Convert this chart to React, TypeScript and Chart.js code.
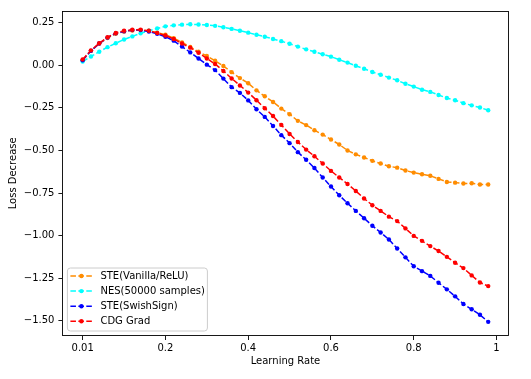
import React, { useEffect, useRef } from 'react';
import { Chart, registerables } from 'chart.js';

Chart.register(...registerables);

// x positions of the 50 learning-rate steps (first tick is labelled 0.01)
const learningRateSteps = [
  0.00, 0.02, 0.04, 0.06, 0.08, 0.10, 0.12, 0.14, 0.16, 0.18,
  0.20, 0.22, 0.24, 0.26, 0.28, 0.30, 0.32, 0.34, 0.36, 0.38,
  0.40, 0.42, 0.44, 0.46, 0.48, 0.50, 0.52, 0.54, 0.56, 0.58,
  0.60, 0.62, 0.64, 0.66, 0.68, 0.70, 0.72, 0.74, 0.76, 0.78,
  0.80, 0.82, 0.84, 0.86, 0.88, 0.90, 0.92, 0.94, 0.96, 0.98,
];

const steVanilla = [
  0.030, 0.085, 0.128, 0.160, 0.185, 0.198, 0.205, 0.207, 0.203, 0.192,
  0.180, 0.160, 0.135, 0.108, 0.080, 0.055, 0.027, -0.004, -0.040, -0.075,
  -0.105, -0.147, -0.182, -0.215, -0.254, -0.287, -0.326, -0.351, -0.381, -0.407,
  -0.436, -0.465, -0.500, -0.523, -0.541, -0.561, -0.577, -0.593, -0.601, -0.618,
  -0.630, -0.640, -0.649, -0.667, -0.685, -0.689, -0.694, -0.693, -0.700, -0.700,
];

const nes = [
  0.022, 0.052, 0.080, 0.107, 0.130, 0.152, 0.170, 0.188, 0.203, 0.217,
  0.229, 0.235, 0.239, 0.241, 0.240, 0.237, 0.232, 0.224, 0.214, 0.203,
  0.192, 0.180, 0.168, 0.155, 0.142, 0.127, 0.110, 0.094, 0.080, 0.065,
  0.051, 0.033, 0.016, -0.002, -0.020, -0.039, -0.055, -0.072, -0.088, -0.108,
  -0.125, -0.143, -0.156, -0.174, -0.192, -0.205, -0.222, -0.235, -0.248, -0.264,
];

const steSwishSign = [
  0.030, 0.085, 0.128, 0.163, 0.188, 0.200, 0.207, 0.207, 0.199, 0.185,
  0.168, 0.145, 0.110, 0.076, 0.040, 0.004, -0.028, -0.078, -0.128, -0.162,
  -0.206, -0.258, -0.303, -0.356, -0.410, -0.457, -0.510, -0.555, -0.603, -0.659,
  -0.712, -0.763, -0.810, -0.855, -0.898, -0.942, -0.982, -1.023, -1.076, -1.128,
  -1.180, -1.209, -1.237, -1.277, -1.316, -1.357, -1.402, -1.433, -1.465, -1.507,
];

const cdgGrad = [
  0.035, 0.088, 0.130, 0.165, 0.190, 0.203, 0.209, 0.210, 0.203, 0.190,
  0.175, 0.155, 0.128, 0.104, 0.074, 0.040, 0.008, -0.033, -0.077, -0.118,
  -0.160, -0.205, -0.252, -0.298, -0.350, -0.403, -0.450, -0.495, -0.534, -0.577,
  -0.620, -0.659, -0.697, -0.738, -0.782, -0.822, -0.855, -0.889, -0.915, -0.958,
  -1.002, -1.031, -1.062, -1.091, -1.125, -1.160, -1.191, -1.234, -1.276, -1.297,
];

const seriesNames = ['STE(Vanilla/ReLU)', 'NES(50000 samples)', 'STE(SwishSign)', 'CDG Grad'];
const seriesColors = ['#ff8c00', '#00ffff', '#0000ff', '#ff0000'];
const seriesValues = [steVanilla, nes, steSwishSign, cdgGrad];

const xTickValues = [0, 0.2, 0.4, 0.6, 0.8, 1.0];
const xTickLabels = ['0.01', '0.2', '0.4', '0.6', '0.8', '1'];
const yTickValues = [-1.5, -1.25, -1.0, -0.75, -0.5, -0.25, 0, 0.25];

const xTitle = 'Learning Rate';
const yTitle = 'Loss Decrease';

const FONT = '"DejaVu Sans", sans-serif';
const DASH = [5.55, 2.4];

const framePlugin = {
  id: 'frame',
  afterDraw(chart: any) {
    const { ctx, chartArea } = chart;
    const l = Math.round(chartArea.left) + 0.5;
    const t = Math.round(chartArea.top) + 0.5;
    const r = Math.round(chartArea.right) - 0.5;
    const b = Math.round(chartArea.bottom) - 0.5;
    ctx.save();
    ctx.strokeStyle = '#000';
    ctx.lineWidth = 0.9;
    ctx.setLineDash([]);
    ctx.strokeRect(l, t, r - l, b - t);
    ctx.restore();
  },
};

const legendPlugin = {
  id: 'mplLegend',
  afterDraw(chart: any) {
    const { ctx, chartArea } = chart;
    const bx = chartArea.left + 5;
    const by = chartArea.bottom - 68;
    const bw = 140;
    const bh = 63;
    ctx.save();
    ctx.beginPath();
    const rr = 3;
    ctx.moveTo(bx + rr, by);
    ctx.lineTo(bx + bw - rr, by);
    ctx.quadraticCurveTo(bx + bw, by, bx + bw, by + rr);
    ctx.lineTo(bx + bw, by + bh - rr);
    ctx.quadraticCurveTo(bx + bw, by + bh, bx + bw - rr, by + bh);
    ctx.lineTo(bx + rr, by + bh);
    ctx.quadraticCurveTo(bx, by + bh, bx, by + bh - rr);
    ctx.lineTo(bx, by + rr);
    ctx.quadraticCurveTo(bx, by, bx + rr, by);
    ctx.closePath();
    ctx.fillStyle = 'rgba(255,255,255,0.8)';
    ctx.fill();
    ctx.strokeStyle = '#cccccc';
    ctx.lineWidth = 1;
    ctx.stroke();

    seriesNames.forEach((name, i) => {
      const y = by + 8 + i * 15.1;
      ctx.strokeStyle = seriesColors[i];
      ctx.lineWidth = 1.5;
      ctx.setLineDash(DASH);
      ctx.beginPath();
      ctx.moveTo(bx + 3, y);
      ctx.lineTo(bx + 25, y);
      ctx.stroke();
      ctx.setLineDash([]);
      ctx.fillStyle = seriesColors[i];
      ctx.beginPath();
      ctx.arc(bx + 14, y, 2.2, 0, Math.PI * 2);
      ctx.fill();
      ctx.fillStyle = '#000';
      ctx.font = '10px ' + FONT;
      ctx.textAlign = 'left';
      ctx.textBaseline = 'middle';
      ctx.fillText(name, bx + 33, y);
    });
    ctx.restore();
  },
};

export default function App() {
  const canvasRef = useRef<HTMLCanvasElement | null>(null);

  useEffect(() => {
    document.body.style.margin = '0';
    const canvas = canvasRef.current;
    if (!canvas) return;

    const datasets = seriesNames.map((name, i) => ({
      label: name,
      data: learningRateSteps.map((x, j) => ({ x, y: seriesValues[i][j] })),
      borderColor: seriesColors[i],
      backgroundColor: seriesColors[i],
      borderWidth: 1.5,
      borderDash: DASH,
      pointRadius: 2.2,
      pointBorderWidth: 0,
      pointBackgroundColor: seriesColors[i],
      tension: 0,
      fill: false,
      order: 4 - i,
    }));

    const chart = new Chart(canvas, {
      type: 'line',
      data: { datasets },
      options: {
        animation: false,
        responsive: false,
        devicePixelRatio: 1,
        layout: { padding: { top: 10.7, right: 22.5, left: 0, bottom: 0 } },
        plugins: {
          legend: { display: false },
          tooltip: { enabled: false },
        },
        scales: {
          x: {
            type: 'linear',
            min: -0.049,
            max: 1.029,
            afterBuildTicks: (scale: any) => {
              scale.ticks = xTickValues.map((v) => ({ value: v }));
            },
            afterFit: (scale: any) => {
              scale.height = 43;
            },
            ticks: {
              autoSkip: false,
              maxRotation: 0,
              padding: 2,
              color: '#000',
              font: { family: FONT, size: 10 },
              callback: (value: any) => {
                const idx = xTickValues.findIndex((v) => Math.abs(v - Number(value)) < 1e-9);
                return idx >= 0 ? xTickLabels[idx] : '';
              },
            },
            grid: {
              drawOnChartArea: false,
              drawTicks: true,
              tickLength: 4,
              color: '#000',
              lineWidth: 0.9,
            },
            border: { display: false },
            title: {
              display: true,
              text: xTitle,
              color: '#000',
              font: { family: FONT, size: 10 },
              padding: { top: 0, bottom: 11.5 },
            },
          },
          y: {
            type: 'linear',
            min: -1.59,
            max: 0.321,
            afterBuildTicks: (scale: any) => {
              scale.ticks = yTickValues.map((v) => ({ value: v }));
            },
            afterFit: (scale: any) => {
              scale.width = 62.4;
            },
            ticks: {
              autoSkip: false,
              padding: 4,
              color: '#000',
              font: { family: FONT, size: 10 },
              callback: (value: any) => {
                const v = Number(value);
                const s = Math.abs(v).toFixed(2);
                return v < -1e-9 ? '\u2212' + s : s;
              },
            },
            grid: {
              drawOnChartArea: false,
              drawTicks: true,
              tickLength: 4,
              color: '#000',
              lineWidth: 0.9,
            },
            border: { display: false },
            title: {
              display: true,
              text: yTitle,
              color: '#000',
              font: { family: FONT, size: 10 },
              padding: { top: 7.5, bottom: 0 },
            },
          },
        },
      },
      plugins: [framePlugin, legendPlugin],
    });

    return () => {
      chart.destroy();
    };
  }, []);

  return (
    <div style={{ width: 531, height: 379, background: '#fff' }}>
      <canvas ref={canvasRef} width={531} height={379} style={{ display: 'block' }} />
    </div>
  );
}
